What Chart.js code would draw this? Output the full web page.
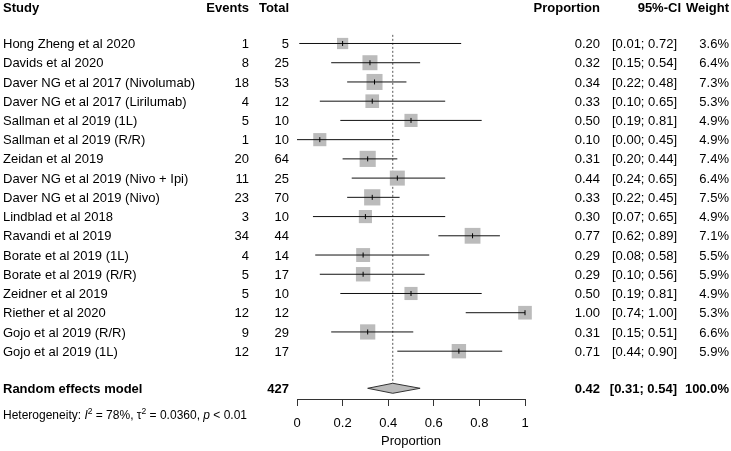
<!DOCTYPE html>
<html><head><meta charset="utf-8">
<script src="https://cdn.jsdelivr.net/npm/chart.js@4/dist/chart.umd.min.js"></script>
<style>html,body{margin:0;padding:0;background:#fff;}canvas{display:block;}</style>
</head><body>
<canvas id="c" width="731" height="451"></canvas>
<script>
const studies = [
  "Hong Zheng et al 2020", "Davids et al 2020", "Daver NG et al 2017 (Nivolumab)",
  "Daver NG et al 2017 (Lirilumab)", "Sallman et al 2019 (1L)", "Sallman et al 2019 (R/R)",
  "Zeidan et al 2019", "Daver NG et al 2019 (Nivo + Ipi)", "Daver NG et al 2019 (Nivo)",
  "Lindblad et al 2018", "Ravandi et al 2019", "Borate et al 2019 (1L)",
  "Borate et al 2019 (R/R)", "Zeidner et al 2019", "Riether et al 2020",
  "Gojo et al 2019 (R/R)", "Gojo et al 2019 (1L)"
];
const events = [1, 8, 18, 4, 5, 1, 20, 11, 23, 3, 34, 4, 5, 5, 12, 9, 12];
const totals = [5, 25, 53, 12, 10, 10, 64, 25, 70, 10, 44, 14, 17, 10, 12, 29, 17];
const proportions = [0.20, 0.32, 0.34, 0.33, 0.50, 0.10, 0.31, 0.44, 0.33, 0.30, 0.77, 0.29, 0.29, 0.50, 1.00, 0.31, 0.71];
const ciLower = [0.01, 0.15, 0.22, 0.10, 0.19, 0.00, 0.20, 0.24, 0.22, 0.07, 0.62, 0.08, 0.10, 0.19, 0.74, 0.15, 0.44];
const ciUpper = [0.72, 0.54, 0.48, 0.65, 0.81, 0.45, 0.44, 0.65, 0.45, 0.65, 0.89, 0.58, 0.56, 0.81, 1.00, 0.51, 0.90];
const weights = [3.6, 6.4, 7.3, 5.3, 4.9, 4.9, 7.4, 6.4, 7.5, 4.9, 7.1, 5.5, 5.9, 4.9, 5.3, 6.6, 5.9];
const pooledLabel = "Random effects model";
const pooledTotal = 427;
const pooledEstimate = 0.42;
const pooledLower = 0.31;
const pooledUpper = 0.54;
const pooledWeight = 100.0;
const xTicks = [0, 0.2, 0.4, 0.6, 0.8, 1];
const xTickLabels = ["0", "0.2", "0.4", "0.6", "0.8", "1"];
const heterogeneity = { I2: "78%", tau2: "0.0360", p: "< 0.01" };

const FONT = '"Liberation Sans", Arial, Helvetica, sans-serif';
const HEADER_ROW = -1.9;
const POOLED_ROW = 17.93;
const HET_ROW = 19.3;
const DIAMOND_HALF = 0.26;

const ciDatasets = studies.map((s, i) => ({
  data: [{x: ciLower[i], y: i}, {x: ciUpper[i], y: i}],
  showLine: true, borderColor: '#111', borderWidth: 1, pointRadius: 0, clip: false, order: 1
}));

const squareDataset = {
  data: studies.map((s, i) => ({x: proportions[i], y: i})),
  pointStyle: 'rect',
  pointRadius: ctx => 5.93 * Math.sqrt(weights[ctx.dataIndex]) / Math.SQRT2,
  backgroundColor: '#BBBBBB', borderColor: '#BBBBBB', borderWidth: 0,
  clip: false, order: 2
};
const tickDataset = {
  data: studies.map((s, i) => ({x: proportions[i], y: i})),
  pointStyle: 'line', rotation: 90, pointRadius: 2.5,
  borderColor: '#000', borderWidth: 1, clip: false, order: 0
};
const diamondDataset = {
  data: [
    {x: pooledLower, y: POOLED_ROW}, {x: pooledEstimate, y: POOLED_ROW - DIAMOND_HALF},
    {x: pooledUpper, y: POOLED_ROW}, {x: pooledEstimate, y: POOLED_ROW + DIAMOND_HALF},
    {x: pooledLower, y: POOLED_ROW}
  ],
  showLine: true, fill: 'shape', backgroundColor: '#BBBBBB', borderColor: '#333',
  borderWidth: 1, pointRadius: 0, clip: false, order: 0
};
const refLineDataset = {
  data: [{x: pooledEstimate, y: -0.45}, {x: pooledEstimate, y: POOLED_ROW - DIAMOND_HALF}],
  showLine: true, borderColor: '#555', borderWidth: 1, borderDash: [2, 2],
  pointRadius: 0, clip: false, order: 3
};

const tablePlugin = {
  id: 'table',
  afterDraw(chart) {
    const ctx = chart.ctx;
    const y = chart.scales.y;
    const py = r => y.getPixelForValue(r) + 4.6;
    ctx.save();
    ctx.fillStyle = '#000';
    ctx.textBaseline = 'alphabetic';
    const txt = (s, x, r, align, bold) => {
      ctx.font = (bold ? 'bold ' : '') + '13px ' + FONT;
      ctx.textAlign = align;
      ctx.fillText(s, x, py(r));
    };
    txt('Study', 3, HEADER_ROW, 'left', true);
    txt('Events', 249, HEADER_ROW, 'right', true);
    txt('Total', 289, HEADER_ROW, 'right', true);
    txt('Proportion', 600, HEADER_ROW, 'right', true);
    txt('95%-CI', 681, HEADER_ROW, 'right', true);
    txt('Weight', 729, HEADER_ROW, 'right', true);
    studies.forEach((s, i) => {
      txt(s, 3, i, 'left', false);
      txt(String(events[i]), 249, i, 'right', false);
      txt(String(totals[i]), 289, i, 'right', false);
      txt(proportions[i].toFixed(2), 600, i, 'right', false);
      txt('[' + ciLower[i].toFixed(2) + '; ' + ciUpper[i].toFixed(2) + ']', 677, i, 'right', false);
      txt(weights[i].toFixed(1) + '%', 729, i, 'right', false);
    });
    txt(pooledLabel, 3, POOLED_ROW, 'left', true);
    txt(String(pooledTotal), 289, POOLED_ROW, 'right', true);
    txt(pooledEstimate.toFixed(2), 600, POOLED_ROW, 'right', true);
    txt('[' + pooledLower.toFixed(2) + '; ' + pooledUpper.toFixed(2) + ']', 677, POOLED_ROW, 'right', true);
    txt(pooledWeight.toFixed(1) + '%', 729, POOLED_ROW, 'right', true);
    const segs = [
      ['Heterogeneity: ', ''], ['I', 'italic '], ['2', 'sup'], [' = ' + heterogeneity.I2 + ', ', ''],
      ['\u03C4', ''], ['2', 'sup'], [' = ' + heterogeneity.tau2 + ', ', ''], ['p', 'italic '],
      [' ' + heterogeneity.p, '']
    ];
    let x = 3;
    const by = y.getPixelForValue(HET_ROW) + 4.2;
    ctx.textAlign = 'left';
    segs.forEach(([s, st]) => {
      if (st === 'sup') {
        ctx.font = '8.5px ' + FONT;
        ctx.fillText(s, x, by - 5);
      } else {
        ctx.font = st + '12px ' + FONT;
        ctx.fillText(s, x, by);
      }
      x += ctx.measureText(s).width;
    });
    ctx.restore();
  }
};

new Chart(document.getElementById('c'), {
  type: 'scatter',
  data: { datasets: [...ciDatasets, squareDataset, tickDataset, diamondDataset, refLineDataset] },
  options: {
    responsive: false, animation: false, devicePixelRatio: 1,
    layout: { autoPadding: false, padding: { left: 297, right: 206, top: 0, bottom: 0 } },
    plugins: { legend: { display: false }, tooltip: { enabled: false } },
    scales: {
      y: { type: 'linear', display: false, reverse: true, min: -2.262, max: 18.487 },
      x: {
        type: 'linear', min: 0, max: 1, position: 'bottom',
        afterFit: s => { s.height = 52; },
        afterBuildTicks: s => { s.ticks = xTicks.map(v => ({ value: v })); },
        ticks: {
          padding: 10, color: '#000', font: { family: FONT, size: 13 },
          autoSkip: false, maxRotation: 0,
          callback: (v, i) => xTickLabels[i]
        },
        grid: { drawOnChartArea: false, drawTicks: true, tickLength: 7, color: '#333', lineWidth: 1 },
        border: { display: true, color: '#333', width: 1 },
        title: { display: true, text: 'Proportion', color: '#000', font: { family: FONT, size: 13 }, padding: { top: 0, bottom: 2 } }
      }
    }
  },
  plugins: [tablePlugin]
});
</script>
</body></html>
